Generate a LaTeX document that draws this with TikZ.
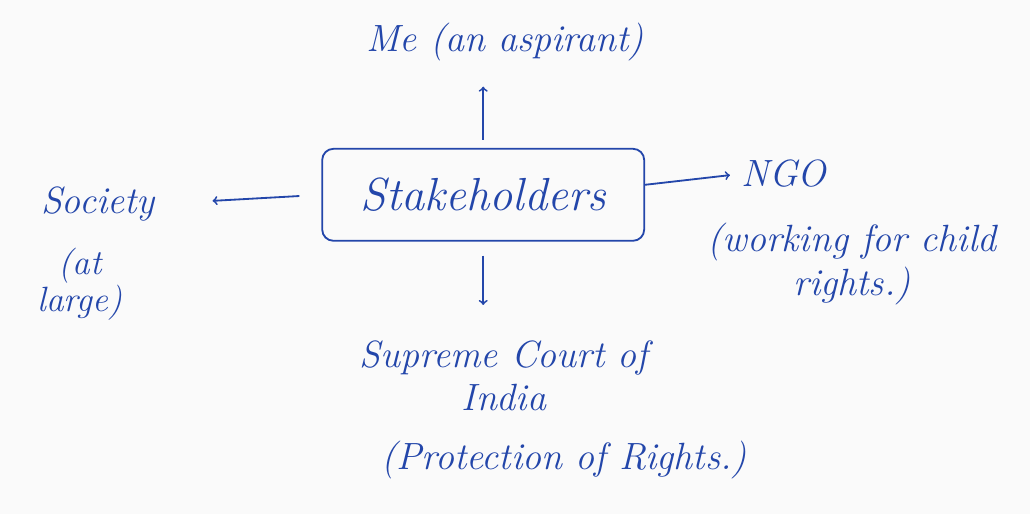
\documentclass[tikz,border=0pt]{standalone}
\usepackage{xcolor}
\usepackage{tikz}
\usetikzlibrary{calc, arrows}
\definecolor{ink}{RGB}{35,70,170}
\tikzset{
  hand/.style = {align=center, inner sep=1pt, text=ink,
    font=\fontsize{27}{31}\selectfont\itshape},% written text
  hubbox/.style = {hand, rectangle, draw=ink, rounded corners=8pt,
    line width=1.3pt, minimum width=8.05cm, minimum height=2.3cm,
    font=\fontsize{33}{38}\selectfont\itshape},% central box
  penarrow/.style = {->, draw=ink, line width=1.3pt}% ink arrow
}

\begin{document}
\begin{tikzpicture}
\fill[gray!4] (0,0) rectangle (25.75,12.85);
\useasboundingbox (0,0) rectangle (25.75,12.85);

\node[hubbox] (hub) at (12.08,7.98) {Stakeholders};
\node[hand] (me) at (12.63,11.8) {Me (an aspirant)};
\node[hand] (society) at (2.45,7.75) {Society};
\node[hand, font=\fontsize{25}{23}\selectfont\itshape] (atlarge) at (2.0,5.75) {(at\\large)};
\node[hand] (ngo) at (19.6,8.5) {NGO};
\node[hand] (ngowork) at (21.3,6.25) {(working for child\\rights.)};
\node[hand] (court) at (12.6,3.45) {Supreme Court of\\India};
\node[hand] (protect) at (14.1,1.35) {(Protection of Rights.)};

\draw[penarrow, shorten <=0.2cm, shorten >=0.6cm] (hub.north) -- (hub.north |- me.south);
\draw[penarrow, shorten <=0.55cm, shorten >=1.4cm] (hub.west) -- (society.east);
\draw[penarrow, shorten >=0.25cm] ($(hub.east)+(0,0.25)$) -- (ngo.west);
\draw[penarrow, shorten <=0.35cm, shorten >=0.85cm] (hub.south) -- (hub.south |- court.north);
\end{tikzpicture}
\end{document}
